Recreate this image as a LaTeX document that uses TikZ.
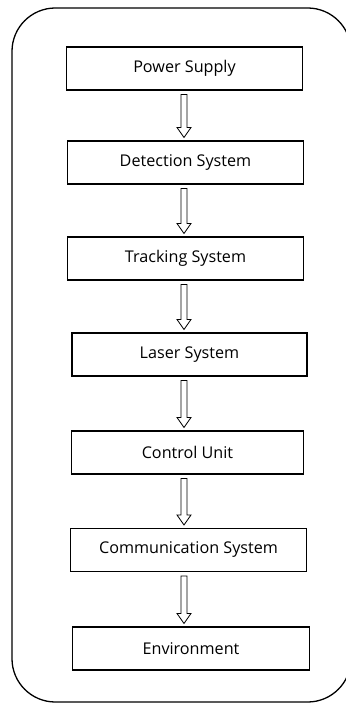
\documentclass[tikz,border=0pt]{standalone}
\usepackage{fontspec}
\setmainfont{Open Sans}
\usetikzlibrary{calc}

% hollow block arrow from the bottom of one box to the top of the next
\newcommand{\flowarrow}[2]{%
  \path ($(#1.south -| axis)+(0,4)$) coordinate (s)
        ($(#2.north -| axis)+(0,-3)$) coordinate (t);
  \draw[hollow] ($(s)+(-3,0)$) -- ($(t)+(-3,-10)$) -- ($(t)+(-7,-10)$) -- (t)
    -- ($(t)+(7,-10)$) -- ($(t)+(3,-10)$) -- ($(s)+(3,0)$) -- cycle;
}

\begin{document}
\begin{tikzpicture}[x=0.03cm, y=-0.03cm,
  stage/.style={draw, line width=0.9pt, minimum width=7.1cm, minimum height=1.29cm,
                inner sep=0pt, font=\fontsize{13.8}{16}\selectfont},
  hollow/.style={draw, line width=0.7pt, fill=white, line join=miter}
]
  \useasboundingbox (0,0) rectangle (346,704);
  % outer frame, its right side runs off the page
  \draw[line width=1.1pt, rounded corners=1.3cm] (12,8) rectangle (351,702);

  \coordinate (axis) at (184,0);

  \node[stage] (power)   at (184.5,68.5) {Power Supply};
  \node[stage] (detect)  at (185.5,162.5) {Detection System};
  \node[stage] (track)   at (185.5,258.5) {Tracking System};
  \node[stage, minimum width=7.05cm] (laser) at (189.5,354.5) {Laser System};
  \node[stage, minimum width=6.95cm] (control) at (187.5,452.5) {Control Unit};
  \node[stage] (comm)    at (188.5,550) {Communication System};
  \node[stage] (env)     at (191,648.5) {Environment};

  \flowarrow{power}{detect}
  \flowarrow{detect}{track}
  \flowarrow{track}{laser}
  \flowarrow{laser}{control}
  \flowarrow{control}{comm}
  \flowarrow{comm}{env}
\end{tikzpicture}
\end{document}
